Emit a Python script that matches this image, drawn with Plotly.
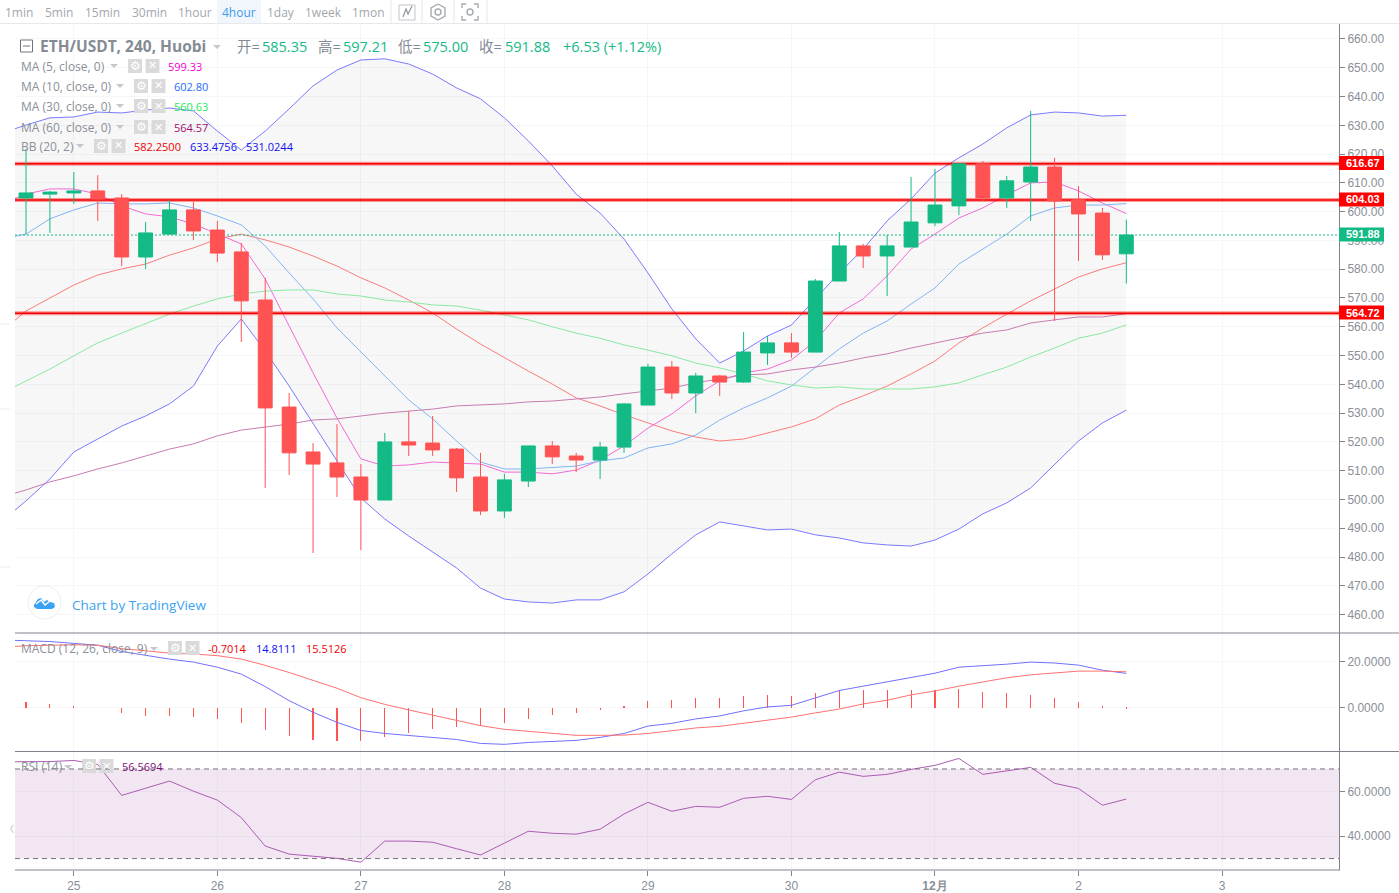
import plotly.graph_objects as go

# ---- candles, one per 4 hours, oldest first
opens = [604.75, 606.1, 606.5, 607.2, 604.75, 584.25, 592.2, 600.6, 593.6, 586.0, 569.3, 532.1,
         516.5, 512.7, 507.8, 499.8, 520.0, 519.6, 517.5, 507.8, 496.0, 506.4, 518.6, 515.1,
         513.7, 518.2, 532.8, 546.0, 537.0, 542.9, 540.8, 550.9, 554.4, 551.2, 575.9, 588.1,
         584.6, 587.7, 596.1, 602.0, 616.6, 604.75, 610.3, 615.5, 604.1, 599.5, 585.35]
highs = [621.8, 607.2, 613.8, 612.7, 606.1, 596.4, 604.1, 603.4, 596.8, 589.1, 577.0, 537.0,
         519.6, 526.2, 512.3, 523.1, 530.7, 529.0, 517.9, 516.2, 508.9, 518.6, 520.3, 516.2,
         520.0, 533.5, 547.1, 548.1, 544.0, 543.2, 558.2, 556.8, 557.8, 576.6, 592.9, 588.8,
         591.9, 612.1, 614.8, 616.9, 617.6, 612.4, 635.0, 618.7, 608.9, 601.3, 597.21]
lows = [592.2, 592.6, 602.7, 596.8, 581.1, 580.1, 591.9, 590.2, 582.5, 554.7, 504.0, 508.5,
        481.4, 500.9, 482.4, 499.8, 515.1, 515.1, 502.6, 494.6, 493.6, 504.3, 512.3, 509.5,
        507.1, 516.2, 532.8, 534.9, 530.0, 536.0, 540.5, 546.7, 549.2, 551.2, 575.9, 580.4,
        570.7, 587.7, 595.0, 598.8, 603.7, 601.3, 596.8, 562.0, 582.9, 583.2, 575.0]
closes = [606.5, 606.8, 607.2, 604.4, 584.25, 592.6, 600.6, 593.3, 585.6, 569.0, 531.8, 516.2,
          512.3, 507.8, 499.8, 520.0, 518.9, 517.2, 507.5, 496.0, 506.8, 518.6, 514.8, 513.7,
          518.2, 533.2, 546.0, 537.0, 542.9, 540.8, 551.2, 554.4, 551.2, 575.9, 588.1, 584.6,
          588.1, 596.4, 602.3, 616.6, 604.75, 610.7, 615.5, 603.7, 599.2, 585.0, 591.88]

# ---- indicators start one bar earlier than the candles, the axis clips that bar
bb_upper = [627.3, 630.1, 632.6, 632.9, 634.6, 634.3, 635.3, 636.0, 635.0, 628.0, 621.4, 628.0,
            635.7, 643.7, 649.2, 652.7, 653.1, 651.3, 647.8, 643.0, 639.2, 632.6, 624.6, 615.9,
            606.1, 599.5, 590.5, 578.7, 566.2, 555.8, 547.4, 551.6, 556.8, 560.6, 569.7, 578.7,
            587.0, 596.8, 604.4, 613.4, 618.7, 623.5, 629.1, 633.6, 634.6, 634.3, 633.2, 633.48]
bb_lower = [492.5, 499.5, 507.1, 516.5, 521.0, 525.5, 529.0, 533.2, 539.4, 553.3, 562.7, 551.6,
            539.4, 526.2, 513.4, 500.5, 493.2, 487.3, 481.8, 476.2, 469.2, 465.4, 464.4, 464.0,
            465.1, 465.1, 467.9, 474.1, 481.1, 487.7, 492.2, 490.8, 489.4, 489.7, 487.7, 486.6,
            484.9, 484.2, 483.8, 485.9, 489.7, 495.0, 498.8, 504.0, 512.0, 520.3, 526.6, 531.02]
bb_basis = [558.5, 565.5, 570.0, 574.5, 578.0, 580.1, 581.8, 584.9, 587.4, 590.5, 592.2, 590.2,
            587.7, 584.6, 581.1, 577.0, 573.5, 569.3, 564.8, 559.2, 554.0, 549.2, 544.6, 540.1,
            535.3, 532.5, 529.4, 526.6, 523.8, 521.7, 520.3, 521.0, 523.1, 525.2, 528.0, 532.8,
            536.0, 539.4, 543.6, 548.1, 554.4, 559.6, 564.4, 569.0, 573.1, 577.3, 580.1, 582.25]
ma5 = [602.7, 606.1, 607.9, 607.9, 606.1, 602.0, 599.2, 598.2, 595.7, 592.2, 588.8, 576.6,
       560.3, 544.0, 528.3, 514.1, 511.6, 512.0, 513.0, 512.7, 512.3, 509.5, 509.5, 508.9,
       510.2, 513.7, 518.6, 524.8, 529.7, 536.0, 541.2, 544.0, 545.3, 548.5, 555.1, 564.8,
       569.7, 577.7, 587.0, 592.2, 597.8, 601.3, 605.8, 610.0, 610.3, 607.2, 603.0, 599.33]
ma10 = [590.5, 592.2, 597.5, 600.6, 603.0, 602.7, 602.7, 603.0, 601.3, 598.5, 595.4, 588.1,
        578.7, 569.7, 559.6, 551.2, 542.9, 534.6, 528.0, 520.3, 513.0, 510.6, 510.6, 511.0,
        511.6, 513.4, 514.4, 517.9, 519.3, 522.4, 527.6, 531.8, 535.3, 539.4, 545.7, 552.3,
        557.8, 562.0, 567.9, 573.5, 581.8, 587.0, 592.2, 598.5, 601.3, 602.3, 602.3, 602.80]
ma30 = [537.0, 541.2, 545.3, 549.9, 554.4, 557.8, 561.0, 564.4, 567.2, 569.7, 571.4, 572.4,
        572.8, 572.8, 571.4, 570.7, 569.3, 568.6, 567.6, 567.2, 565.8, 564.1, 562.4, 560.0,
        557.8, 556.0, 553.7, 551.9, 549.9, 547.4, 545.7, 543.6, 541.2, 539.8, 538.7, 539.1,
        538.4, 538.4, 538.4, 539.1, 540.5, 543.3, 546.0, 549.5, 552.6, 556.0, 557.8, 560.63]
ma60 = [500.9, 503.3, 506.1, 508.2, 510.6, 512.7, 515.1, 517.5, 519.3, 522.1, 524.1, 525.2,
        526.2, 527.6, 528.0, 529.0, 530.0, 530.7, 531.4, 532.5, 532.8, 533.2, 533.9, 534.2,
        534.9, 535.6, 536.7, 537.7, 538.7, 540.5, 541.9, 543.3, 543.6, 545.0, 546.0, 547.4,
        549.2, 550.6, 552.6, 554.4, 556.0, 557.8, 558.9, 561.3, 562.4, 563.4, 563.4, 564.57]

macd = [29.3, 29.1, 28.6, 27.8, 27.0, 24.3, 22.5, 21.0, 19.7, 17.5, 14.5, 9.1,
        3.0, -2.0, -6.4, -9.9, -11.2, -12.0, -12.9, -13.8, -15.5, -15.9, -15.1, -14.8,
        -14.2, -12.9, -11.2, -8.0, -6.8, -4.9, -3.6, -1.4, 0.3, 1.0, 4.3, 7.4,
        9.3, 11.2, 13.2, 14.9, 17.5, 18.1, 18.8, 19.7, 19.3, 18.4, 16.2, 14.81]
macd_signal = [26.1, 26.8, 27.0, 27.2, 27.0, 25.5, 24.6, 23.6, 23.2, 22.5, 21.0, 18.3,
               15.2, 11.9, 8.4, 4.3, 1.4, -1.0, -3.2, -5.4, -7.8, -9.4, -10.3, -11.2,
               -12.0, -12.0, -11.9, -11.2, -10.1, -8.8, -8.1, -6.8, -5.4, -4.1, -2.3, -0.6,
               1.6, 3.2, 5.5, 7.2, 9.3, 11.2, 12.9, 14.2, 15.1, 15.8, 15.8, 15.51]
macd_hist = [2.5, 1.6, 0.7, 0.0, -2.3, -3.6, -3.6, -4.1, -4.9, -6.7, -9.7, -12.3,
             -14.1, -14.5, -14.5, -12.8, -11.0, -9.3, -8.4, -8.1, -6.7, -4.9, -3.2, -2.3,
             -1.0, 0.7, 2.9, 3.5, 4.2, 4.2, 5.1, 5.5, 5.1, 6.4, 7.5, 7.7,
             7.7, 7.7, 7.7, 8.1, 6.8, 6.4, 5.5, 4.2, 2.5, 0.3, -0.7]
rsi = [73.2, 73.2, 73.3, 73.8, 72.0, 58.2, 61.3, 64.6, 60.1, 56.1, 48.3, 35.6,
       32.0, 31.1, 30.1, 28.4, 37.8, 37.8, 37.3, 34.4, 31.6, 36.9, 42.2, 41.3,
       40.9, 43.1, 49.9, 55.1, 51.1, 53.3, 52.9, 56.9, 57.8, 56.4, 65.2, 68.6,
       66.7, 67.6, 69.8, 71.6, 74.7, 67.6, 69.3, 70.7, 63.6, 61.3, 53.8, 56.57]

bar_index = list(range(len(closes)))
line_index = list(range(-1, len(closes)))

day_ticks = [2, 8, 14, 20, 26, 32, 38, 44, 50]
day_labels = ["25", "26", "27", "28", "29", "30", "<b>12月</b>", "2", "3"]
price_ticks = list(range(460, 661, 10))
levels = [616.67, 604.03, 564.72]
last_close = 591.88
rsi_band = (30, 70)

W, H = 1399, 893
X_RANGE = [-0.46, 54.89]
GREEN, RED = "#13BA85", "#FF5252"
GRID = "#F5F6F7"
AXIS = "#7E838C"
TICK_TEXT = "#8A8F98"
UI_FONT = "Open Sans, Noto Sans CJK SC"


def px(x):
    return x / W


def py(y):
    return 1 - y / H


fig = go.Figure()


def add_line(x, y, color, yaxis="y", **kw):
    fig.add_trace(go.Scatter(x=x, y=y, mode="lines", yaxis=yaxis, line=dict(color=color, width=1), **kw))


# Bollinger fill goes first so that everything else sits on top of it
add_line(line_index, bb_upper, "#7A7AFF")
add_line(line_index, bb_lower, "#7A7AFF", fill="tonexty", fillcolor="rgba(0,0,0,0.032)")
add_line(line_index, bb_basis, "#FB7C7C")
add_line(line_index, ma5, "#F36AD8")
add_line(line_index, ma10, "#82B6F5")
add_line(line_index, ma30, "#8BE9A3")
add_line(line_index, ma60, "#C77DB1")

for level in levels:
    fig.add_trace(go.Scatter(x=X_RANGE, y=[level, level], mode="lines", line=dict(color="rgba(255,0,0,0.4)", width=4)))
    fig.add_trace(go.Scatter(x=X_RANGE, y=[level, level], mode="lines", line=dict(color="#F00000", width=1.5)))
fig.add_trace(go.Scatter(x=X_RANGE, y=[last_close, last_close], mode="lines", line=dict(color=GREEN, width=1, dash="2px,2px")))

# candles on an overlay axis, scatter traces would otherwise paint over them
fig.add_trace(go.Candlestick(
    x=bar_index, open=opens, high=highs, low=lows, close=closes, yaxis="y4", whiskerwidth=0,
    increasing=dict(line=dict(color=GREEN, width=1), fillcolor=GREEN),
    decreasing=dict(line=dict(color=RED, width=1), fillcolor=RED),
))

# very thin on purpose, plotly widens a bar to the pixels it touches
fig.add_trace(go.Bar(x=bar_index, y=macd_hist, yaxis="y2", width=0.005, marker=dict(color="#FF5252", line=dict(width=0))))
add_line(line_index, macd, "#7070FF", yaxis="y2")
add_line(line_index, macd_signal, "#FF7070", yaxis="y2")

add_line(line_index, rsi, "#AB5CB2", yaxis="y3")

shapes = []
annotations = []


def label(x, y, text, color=TICK_TEXT, size=12, anchor="left", family=UI_FONT, **kw):
    annotations.append(dict(
        xref="paper", yref="paper", x=px(x), y=py(y), text=text, showarrow=False,
        xanchor=anchor, yanchor="middle", align=anchor, font=dict(color=color, size=size, family=family),
        borderpad=0, **kw,
    ))


def rule(x0, y0, x1, y1, color=AXIS, width=1):
    shapes.append(dict(type="line", xref="paper", yref="paper", x0=px(x0), y0=py(y0), x1=px(x1), y1=py(y1),
                       line=dict(color=color, width=width), layer="above"))


def box(x0, y0, x1, y1, color, layer="above"):
    shapes.append(dict(type="rect", xref="paper", yref="paper", x0=px(x0), y0=py(y0), x1=px(x1), y1=py(y1),
                       fillcolor=color, line=dict(width=0), layer=layer))


def glyph(points, color=None, fill=None, width=1.4):
    # small icons, points are page pixels
    path = "M " + " L ".join(f"{px(a):.5f},{py(b):.5f}" for a, b in points)
    if fill:
        path += " Z"
    shapes.append(dict(type="path", xref="paper", yref="paper", path=path, fillcolor=fill,
                       line=dict(color=color or "rgba(0,0,0,0)", width=width), layer="above"))


def triangle(x, y, color="#C4C7CC"):
    glyph([(x - 4, y - 2), (x + 4, y - 2), (x, y + 2)], fill=color, width=0)


def gear_pair(x, y):
    for left, mark, family, size in [(x, "⚙", "DejaVu Sans", 12), (x + 17.5, "✕", "DejaVu Sans", 11)]:
        box(left, y - 7, left + 14, y + 7, "#DADADA")
        label(left + 7, y, mark, color="#FFFFFF", size=size, anchor="center", family=family)


# top toolbar
toolbar = [("1min", 19), ("5min", 59), ("15min", 102), ("30min", 149), ("1hour", 195),
           ("4hour", 239), ("1day", 281), ("1week", 323), ("1mon", 368)]
box(217, 0, 261, 23, "#F1F6FC")
for name, center in toolbar:
    label(center, 13, name, color="#3D9BF0" if name == "4hour" else "#A2A7AE", anchor="center")
rule(0, 23.5, W, 23.5, "#E6E8EB")
for x in [391, 422, 454, 487]:
    rule(x, 0, x, 23, "#E6E8EB")
# line-style button
glyph([(399, 5), (415, 5), (415, 20), (399, 20), (399, 5)], "#BFC3C8", width=1)
glyph([(403, 17), (406, 9), (408, 14), (412, 6)], "#8F949C", width=1.2)
# settings button
glyph([(438, 4), (445, 8), (445, 16), (438, 20), (431, 16), (431, 8), (438, 4)], "#A6ABB2")
shapes.append(dict(type="circle", xref="paper", yref="paper", x0=px(435), y0=py(9), x1=px(441), y1=py(15),
                   line=dict(color="#A6ABB2", width=1.4), layer="above"))
# snapshot button
for sx, sy in [(-1, -1), (1, -1), (-1, 1), (1, 1)]:
    glyph([(470 + sx * 8, 12 + sy * 4), (470 + sx * 8, 12 + sy * 8), (470 + sx * 4, 12 + sy * 8)], "#A6ABB2")
shapes.append(dict(type="circle", xref="paper", yref="paper", x0=px(467), y0=py(9), x1=px(473), y1=py(15),
                   line=dict(color="#A6ABB2", width=1.4), layer="above"))

# header
shapes.append(dict(type="rect", xref="paper", yref="paper", x0=px(20.5), y0=py(40), x1=px(32.5), y1=py(52),
                   line=dict(color="#6E747D", width=1), layer="above"))
rule(23, 46, 30, 46, "#6E747D")
label(39, 46, "<b>ETH/USDT, 240, Huobi</b>", color="#858B94", size=15.5)
triangle(217, 47)
for x, text, color in [(235.5, "开=", "#858B94"), (260.5, "585.35", GREEN), (317, "高=", "#858B94"), (341.5, "597.21", GREEN),
                       (397, "低=", "#858B94"), (422.5, "575.00", GREEN), (478, "收=", "#858B94"), (503.5, "591.88", GREEN),
                       (561.5, "+6.53 (+1.12%)", GREEN)]:
    label(x, 47, text, color=color, size=14.5)

# indicator legend rows
legend_font = "Liberation Sans"
for y, name, tri, gears, value, value_x, color in [
    (66, "MA (5, close, 0)", 114, 128, "599.33", 167, "#F000D0"),
    (86, "MA (10, close, 0)", 120, 134, "602.80", 173, "#1E6CFF"),
    (106, "MA (30, close, 0)", 120, 134, "560.63", 173, "#1EE85A"),
    (127, "MA (60, close, 0)", 120, 134, "564.57", 173, "#A01070"),
]:
    label(19.5, y + 0.5, name, color="#8A8F98", size=12)
    triangle(tri, y)
    gear_pair(gears, y)
    label(value_x, y + 0.5, value, color=color, size=11)
label(19.5, 146.5, "BB (20, 2)", color="#8A8F98", size=12)
triangle(80, 146)
gear_pair(94, 146)
label(133, 146.5, "582.2500", color="#F00000", size=11)
label(189, 146.5, "633.4756", color="#1010F0", size=11)
label(245, 146.5, "531.0244", color="#1010F0", size=11)

label(19.5, 648.5, "MACD (12, 26, close, 9)", color="#8A8F98", size=12)
triangle(154, 649)
gear_pair(168, 648)
label(207, 648.5, "-0.7014", color="#F00000", size=11)
label(255, 648.5, "14.8111", color="#1010F0", size=11)
label(305, 648.5, "15.5126", color="#F00000", size=11)

label(19.5, 766.5, "RSI (14)", color="#8A8F98", size=12)
triangle(68, 767)
gear_pair(82, 766)
label(121, 766.5, "56.5694", color="#80107A", size=11)

# watermark
shapes.append(dict(type="circle", xref="paper", yref="paper", x0=px(28), y0=py(586), x1=px(61), y1=py(619),
                   fillcolor="#FFFFFF", line=dict(color="#ECEEF0", width=1), layer="above"))
glyph([(34, 605), (38, 599), (41, 598), (44, 602), (47, 600), (50, 602), (54, 603), (55, 607), (52, 609),
       (37, 609), (34, 607)], fill="#3BA3F3", width=0)
glyph([(36, 604), (41, 600), (45, 605), (50, 601)], "#FFFFFF", width=1.5)
label(71, 605, "Chart by TradingView", color="#3BA3F3", size=13.5)

# left strip
for y in [324, 409, 567]:
    rule(0, y, 10, y, "#E8ECF0")
label(9, 828, "〈", color="#A9AFB6", size=9, anchor="center", family="Noto Sans CJK SC")

# pane frames
rule(15, 633, W, 633)
rule(15, 751.5, W, 751.5)
rule(15, 870, 1340, 870)
rule(1339.5, 24, 1339.5, 870)

# price boxes on the axis
for level in levels:
    y = 38.4 + (660 - level) * 2.878
    box(1339, y - 7, 1384, y + 7, "#FF0000")
    label(1362.5, y, f"<b>{level:.2f}</b>", color="#FFFFFF", size=11, anchor="center", family=legend_font)
y = 38.4 + (660 - last_close) * 2.878
box(1339, y - 7, 1384, y + 7, GREEN)
label(1362.5, y, f"<b>{last_close:.2f}</b>", color="#FFFFFF", size=11, anchor="center", family=legend_font)

main_range = [453.6, 665.2]
y_common = dict(side="right", anchor="x", showline=False, zeroline=False, gridcolor=GRID, ticks="outside", ticklen=5,
                tickcolor=AXIS, tickfont=dict(color=TICK_TEXT, size=12, family=legend_font), fixedrange=True)

fig.update_layout(
    width=W,
    height=H,
    margin=dict(l=0, r=0, t=0, b=0),
    paper_bgcolor="#FFFFFF",
    plot_bgcolor="#FFFFFF",
    showlegend=False,
    hovermode=False,
    boxgap=0.42,
    boxgroupgap=0,
    bargap=0,
    shapes=shapes,
    annotations=annotations,
    xaxis=dict(
        domain=[px(15), px(1339)], anchor="y3", range=X_RANGE, tickmode="array", tickvals=day_ticks,
        ticktext=day_labels, ticks="outside", ticklen=5, tickcolor=AXIS, gridcolor=GRID, showline=False,
        zeroline=False, rangeslider=dict(visible=False),
        tickfont=dict(color=TICK_TEXT, size=12, family=legend_font),
    ),
    yaxis=dict(domain=[py(633), py(24)], range=main_range, tickmode="array", tickvals=price_ticks,
               ticktext=[f"{v:.2f}" for v in price_ticks], **y_common),
    yaxis2=dict(domain=[py(751.5), py(633)], range=[-19, 32.3], tickmode="array", tickvals=[0, 20],
                ticktext=["0.0000", "20.0000"], **y_common),
    yaxis3=dict(domain=[py(870), py(751.5)], range=[24.9, 77.8], tickmode="array", tickvals=[40, 60],
                ticktext=["40.0000", "60.0000"], **y_common),
    yaxis4=dict(overlaying="y", range=main_range, visible=False, fixedrange=True),
)

# RSI band and its dashed limits, in axis units
fig.add_shape(type="rect", xref="x", yref="y3", x0=X_RANGE[0], x1=X_RANGE[1], y0=rsi_band[0], y1=rsi_band[1],
              fillcolor="rgba(153,60,160,0.13)", line=dict(width=0), layer="between")
for limit in rsi_band:
    fig.add_shape(type="line", xref="x", yref="y3", x0=X_RANGE[0], x1=X_RANGE[1], y0=limit, y1=limit,
                  line=dict(color="#77707A", width=1, dash="5px,4px"), layer="above")

fig.write_html("out.html", config=dict(displayModeBar=False),
               post_script="document.body.style.margin='0';document.body.style.overflow='hidden';")
